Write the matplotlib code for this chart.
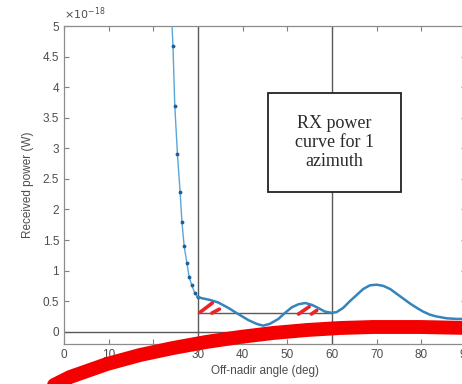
import numpy as np
import matplotlib
matplotlib.use('Agg')
import matplotlib.pyplot as plt
from matplotlib.lines import Line2D
from matplotlib.patches import Rectangle
from matplotlib.ticker import FuncFormatter

# Received power for one azimuth, in units of 1e-18 W
angle = [24.0, 24.4, 24.8, 25.4, 26.0, 26.4, 26.9, 27.5, 28.0, 28.6, 29.3, 29.9,
         30.8, 32.7, 34.5, 36.8, 39.0, 41.3, 43.1, 44.6, 46.1, 48.0, 49.5,
         51.0, 52.5, 54.0, 55.5, 56.9, 58.4, 59.9, 61.0, 62.5, 64.0, 65.5,
         67.0, 68.5, 70.0, 71.5, 73.0, 74.5, 76.0, 77.5, 79.0, 80.4, 81.9,
         83.4, 85.7, 87.9, 89.1, 91.0]
power = [5.30, 4.67, 3.70, 2.90, 2.28, 1.80, 1.40, 1.13, 0.90, 0.76, 0.63, 0.57,
         0.55, 0.52, 0.48, 0.39, 0.29, 0.19, 0.13, 0.10, 0.13, 0.21, 0.31,
         0.40, 0.45, 0.47, 0.44, 0.39, 0.33, 0.31, 0.32, 0.39, 0.50, 0.60,
         0.70, 0.76, 0.77, 0.75, 0.70, 0.62, 0.54, 0.46, 0.39, 0.33, 0.28,
         0.25, 0.22, 0.21, 0.21, 0.21]

# guide lines: swath edges and power threshold
swath_edges = [30, 60]
threshold = 0.3

# red hatch strokes marking the regions above threshold
hatches = [((30.4, 0.315), (33.2, 0.47)), ((33.1, 0.305), (34.8, 0.37)),
           ((52.5, 0.29), (54.9, 0.41)), ((55.4, 0.29), (56.6, 0.35))]

# big red swoosh drawn over the figure (figure pixel coords)
swoosh_px = [(40, 392), (70, 377), (107, 364), (140, 355), (173, 348), (206, 342),
             (240, 337), (273, 333), (307, 330), (340, 328), (373, 327),
             (420, 327), (470, 328)]

W, H = 462, 384
fig = plt.figure(figsize=(W / 100, H / 100), dpi=100)
ax = fig.add_axes([64 / W, 40 / H, 402 / W, 318 / H])

gray = '#5a5a5a'
blue = '#3584bb'
a = np.array(angle)
p = np.array(power)
steep = a <= 30
flat = a >= a[steep][-1]

ax.plot(a[steep], p[steep], color='#5aa6d6', lw=1.0, marker='.', ms=3.5,
        mfc='#1f5f99', mec='#1f5f99', zorder=3)
ax.plot(a[flat], p[flat], color=blue, lw=1.8, solid_joinstyle='round', zorder=3)

for xe in swath_edges:
    ax.axvline(xe, color=gray, lw=1.0, zorder=2)
ax.axhline(0, color=gray, lw=1.0, zorder=2)
ax.plot(swath_edges, [threshold, threshold], color=gray, lw=1.0, zorder=2)

for (x0, y0), (x1, y1) in hatches:
    ax.plot([x0, x1], [y0, y1], color='#e8262a', lw=2.6, solid_capstyle='round', zorder=4)

# text box
ax.add_patch(Rectangle((45.7, 2.28), 29.7, 1.63, facecolor='white',
                       edgecolor='#222222', lw=1.3, zorder=5))
ax.text(60.55, 3.10, 'RX power\ncurve for 1\nazimuth', ha='center', va='center',
        family='Liberation Serif', fontsize=13, color='#2a2a2a',
        linespacing=1.15, zorder=6)

ax.set_xlim(0, 90)
ax.set_ylim(-0.2, 5)
ax.set_xticks(range(0, 91, 10))
ax.set_yticks(np.arange(0, 5.01, 0.5))
ax.yaxis.set_major_formatter(FuncFormatter(lambda v, pos: '%g' % v))
ax.tick_params(direction='in', length=3.5, width=0.8, colors='#808080',
               labelcolor='#4d4d4d', labelsize=8.5, top=True, right=True)
for lab in ax.get_xticklabels() + ax.get_yticklabels():
    lab.set_family('Liberation Sans')
for s in ax.spines.values():
    s.set_color('#8c8c8c')
    s.set_linewidth(0.9)

ax.set_xlabel('Off-nadir angle (deg)', family='Liberation Sans', fontsize=8.5,
              color='#4d4d4d', labelpad=3)
ax.set_ylabel('Received power (W)', family='Liberation Sans', fontsize=8.5,
              color='#4d4d4d', labelpad=6)
ax.text(0.0, 1.012, r'$\times10^{-18}$', transform=ax.transAxes, ha='left', va='bottom',
        fontsize=8, color='#4d4d4d')

sx = [pt[0] / W for pt in swoosh_px]
sy = [1 - pt[1] / H for pt in swoosh_px]
fig.add_artist(Line2D(sx, sy, transform=fig.transFigure, color='#f40000', lw=10,
                      solid_capstyle='round', zorder=10))

fig.savefig('out.png', dpi=100)
